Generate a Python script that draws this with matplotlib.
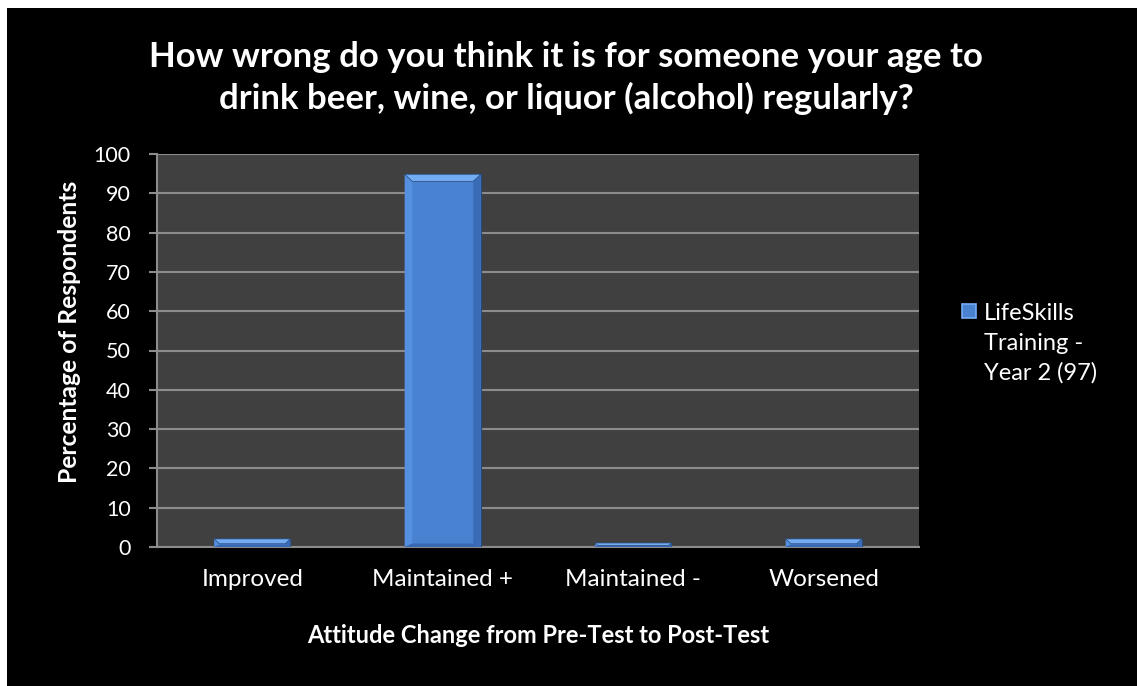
import matplotlib.pyplot as plt
from matplotlib.patches import Polygon, Rectangle

categories = ['Improved', 'Maintained +', 'Maintained -', 'Worsened']
values = [2.06, 94.85, 1.03, 2.06]
series_name = 'LifeSkills\nTraining -\nYear 2 (97)'
title = ('How wrong do you think it is for someone your age to\n'
         'drink beer, wine, or liquor (alcohol) regularly?')
x_label = 'Attitude Change from Pre-Test to Post-Test'
y_label = 'Percentage of Respondents'
y_ticks = list(range(0, 101, 10))

FONT = ['Lato', 'DejaVu Sans']
plt.rcParams['font.family'] = FONT

W, H = 1137, 686
fig = plt.figure(figsize=(W / 100, H / 100), dpi=100, facecolor='white')

# black chart frame, white strip at top/left
fig.patches.append(Rectangle((7 / W, 0), 1, 1 - 8 / H, transform=fig.transFigure,
                             facecolor='black', edgecolor='none', zorder=-10))

ax = fig.add_axes([157 / W, 1 - 547 / H, (919 - 157) / W, (547 - 154) / H])
ax.set_facecolor('#404040')

bar_w = 0.4
xs = list(range(len(categories)))
bars = ax.bar(xs, values, width=bar_w, color='#4a82d2', edgecolor='#27497a',
              linewidth=0.8, zorder=3)

# bevel effect on each bar
bx = 0.04    # horizontal bevel in data units
by = 1.8     # vertical bevel in data units
for b in bars:
    x0, w, h = b.get_x(), b.get_width(), b.get_height()
    x1 = x0 + w
    d = min(by, h * 0.6)
    dx = bx * d / by
    # left / right sides
    ax.add_patch(Polygon([(x0, 0), (x0 + dx, d * 0.5), (x0 + dx, h - d), (x0, h)],
                         closed=True, facecolor='#5590e0', edgecolor='none', zorder=4))
    ax.add_patch(Polygon([(x1, 0), (x1 - dx, d * 0.5), (x1 - dx, h - d), (x1, h)],
                         closed=True, facecolor='#3a6cb6', edgecolor='none', zorder=4))
    # bottom
    ax.add_patch(Polygon([(x0, 0), (x1, 0), (x1 - dx, d * 0.5), (x0 + dx, d * 0.5)],
                         closed=True, facecolor='#3868b0', edgecolor='none', zorder=4))
    # top
    ax.add_patch(Polygon([(x0, h), (x1, h), (x1 - dx, h - d), (x0 + dx, h - d)],
                         closed=True, facecolor='#74acf4', edgecolor='#27497a',
                         linewidth=0.5, zorder=5))

ax.set_xlim(-0.5, len(categories) - 0.5)
ax.set_ylim(0, 100)
ax.set_yticks(y_ticks)
ax.set_xticks(xs)
ax.set_xticklabels(categories)
ax.yaxis.grid(True, color='#8c8c8c', linewidth=1.5, zorder=0)
ax.set_axisbelow(True)

for side in ['top', 'right']:
    ax.spines[side].set_visible(False)
for side in ['left', 'bottom']:
    ax.spines[side].set_color('#8c8c8c')
    ax.spines[side].set_linewidth(1.5)

ax.tick_params(axis='y', colors='#8c8c8c', length=6, width=1.5, labelcolor='white',
               labelsize=15.5, pad=13)
ax.tick_params(axis='x', length=0, labelcolor='white', labelsize=17.5, pad=16)

ax.set_xlabel(x_label, color='white', fontsize=17, fontweight='bold', labelpad=24)
ax.set_ylabel(y_label, color='white', fontsize=17.7, fontweight='bold')
ax.yaxis.set_label_coords(-0.1, 0.547)

fig.text(566 / W, 1 - 78 / H, title, color='white', fontsize=25, fontweight='bold',
         ha='center', va='center', linespacing=1.32)

# legend
fig.patches.append(Rectangle((962 / W, 1 - 318 / H), 14 / W, 14 / H,
                             transform=fig.transFigure, facecolor='#4a82d2',
                             edgecolor='#74acf4', linewidth=1.2))
fig.text(984 / W, 1 - 303 / H, series_name, color='white', fontsize=17,
         ha='left', va='top', linespacing=1.5)

fig.savefig('out.png', dpi=100, facecolor=fig.get_facecolor())
